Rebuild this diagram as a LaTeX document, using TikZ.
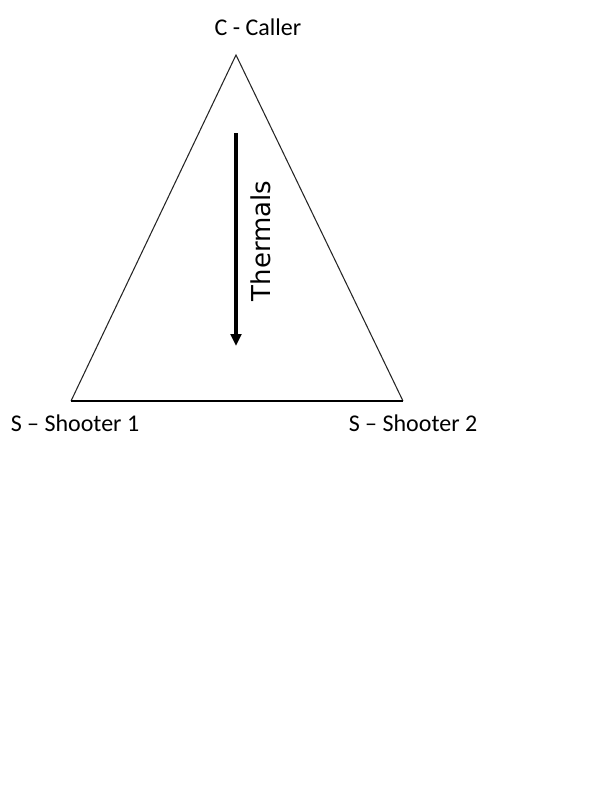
\documentclass[tikz,border=0pt]{standalone}
\usepackage{fontspec}
\setmainfont{Carlito}
\newfontfamily\thermfont{DejaVu Sans}
\usetikzlibrary{arrows.meta}
\begin{document}
\begin{tikzpicture}[x=0.75pt,y=-0.75pt,
  lbl/.style={font=\fontsize{18}{20}\selectfont, anchor=base, inner sep=0pt},
  side/.style={line width=0.8pt, draw=black!85},
  base/.style={line width=1.6pt, draw=black},
  flow/.style={line width=2.4pt, -{Triangle[length=9pt,width=8pt]}}]
\useasboundingbox (0,0) rectangle (597,800);
\coordinate (top) at (236,55);
\coordinate (bl) at (71,401);
\coordinate (br) at (403,401);
\draw[side] (bl) -- (top) -- (br);
\draw[base] (bl) -- (br);
\coordinate (as) at (236,133);
\coordinate (ae) at (236,346);
\draw[flow] (as) -- (ae);
\node[lbl] (caller) at (258,35) {C - Caller};
\node[lbl] (s1) at (75,431) {S – Shooter 1};
\node[lbl] (s2) at (413,431) {S – Shooter 2};
\node[font=\thermfont\fontsize{19.5}{22}\selectfont, rotate=90, anchor=base, inner sep=0pt] (th) at (270,241) {Thermals};
\end{tikzpicture}
\end{document}
